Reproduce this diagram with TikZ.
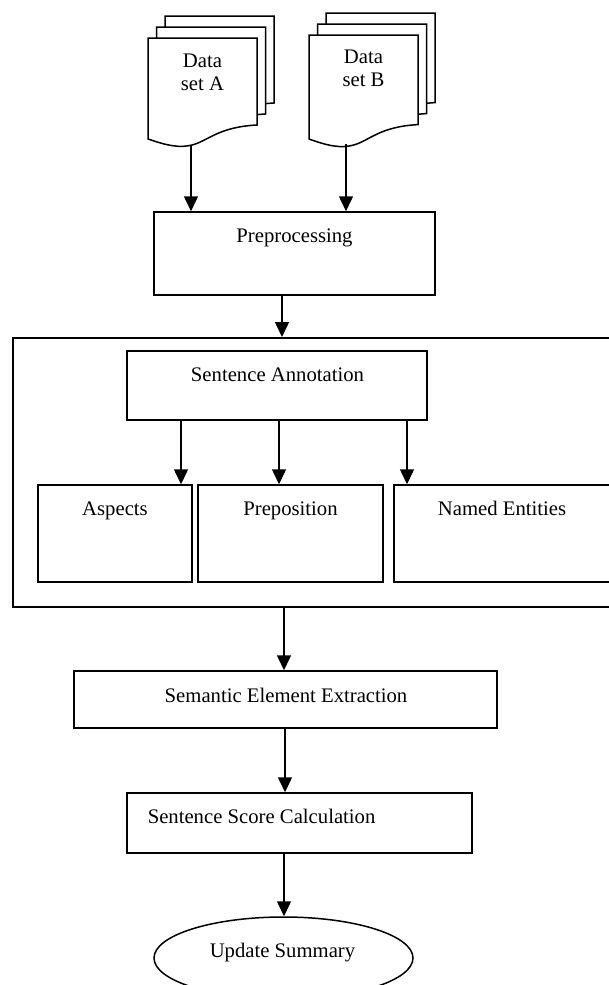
\documentclass[tikz,border=0pt]{standalone}
\usepackage{fontspec}
\setmainfont{Liberation Serif}
\usetikzlibrary{arrows.meta,shapes.geometric}

\tikzset{every picture/.style={line width=1.5pt}}
\tikzset{
  procbox/.style={draw, rectangle, fill=white, inner sep=0pt},
  groupbox/.style={draw, rectangle, line width=2pt, inner sep=0pt},
  endbox/.style={draw, ellipse, fill=white, inner sep=0pt},
  docpage/.style={draw, fill=white, line join=miter},
  txt/.style={inner sep=0pt, font=\fontsize{20.7}{23.5}\selectfont},
  arr/.style={-{Triangle[width=14pt,length=15pt]}}
}

\begin{document}
\begin{tikzpicture}[x=1pt,y=1pt,yscale=-1,xscale=1]
		\useasboundingbox[fill=white] (0,0) rectangle (608,985);

		%Shape: Multidocument [Data set A]
		\foreach \dx/\dy in {17/22,8.5/11,0/0}
		  \draw[docpage, shift={(148+\dx,38-\dy)}] (0,0) -- (109,0) -- (109,87) .. controls (70,89) and (60,103) .. (44,107) .. controls (32,110) and (20,108) .. (0,101) -- cycle ;
		%Shape: Multidocument [Data set B]
		\foreach \dx/\dy in {17/22,8.5/11,0/0}
		  \draw[docpage, shift={(309+\dx,35-\dy)}, yscale=1.03] (0,0) -- (109,0) -- (109,87) .. controls (70,89) and (60,103) .. (44,107) .. controls (32,110) and (20,108) .. (0,101) -- cycle ;
		\coordinate (dA) at (191,145);
		\coordinate (dB) at (346,144);

		% Text Node
		\node[txt, align=center, anchor=north] (dataA) at (202.5,53) {Data\\set A};
		% Text Node
		\node[txt, align=center, anchor=north] (dataB) at (363.5,49) {Data\\set B};

		%Shape: Rectangle [Preprocessing]
		\node[procbox, minimum width=281, minimum height=83] (pre) at (294.5,253.5) {};
		% Text Node
		\node[txt, anchor=base] (preT) at (294.5,242) {Preprocessing};

		%Shape: Rectangle [annotation group]
		\node[groupbox, minimum width=601, minimum height=269] (grp) at (313.5,472.5) {};
		%Shape: Rectangle
		\node[procbox, minimum width=300, minimum height=69] (sa) at (277,385.5) {};
		% Text Node
		\node[txt, anchor=base] (saT) at (277.5,381) {Sentence Annotation};
		%Shape: Rectangle
		\node[procbox, minimum width=154, minimum height=97] (asp) at (115,533.5) {};
		\node[procbox, minimum width=185, minimum height=97] (prep) at (290.5,533.5) {};
		\node[procbox, minimum width=216, minimum height=97] (ne) at (502,533.5) {};
		% Text Node
		\node[txt, anchor=base] (aspT) at (115,515) {Aspects};
		\node[txt, anchor=base] (prepT) at (290.5,515) {Preposition};
		\node[txt, anchor=base] (neT) at (502,515) {Named Entities};

		%Shape: Rectangle
		\node[procbox, minimum width=423, minimum height=57] (see) at (285.5,699.5) {};
		% Text Node
		\node[txt, anchor=base] (seeT) at (286,702) {Semantic Element Extraction};
		%Shape: Rectangle
		\node[procbox, minimum width=345, minimum height=60] (ssc) at (299.5,823) {};
		% Text Node
		\node[txt, anchor=base west] (sscT) at (147,823) {Sentence Score Calculation};
		%Shape: Ellipse
		\node[endbox, minimum width=259, minimum height=82] (upd) at (283.5,958) {};
		% Text Node
		\node[txt, anchor=base] (updT) at (282.5,957) {Update Summary};

		%Straight Lines
		\coordinate (c0) at (282,0);
		\coordinate (c1) at (181,0);
		\coordinate (c2) at (279,0);
		\coordinate (c3) at (407,0);
		\coordinate (c4) at (284,0);
		\coordinate (c5) at (285,0);
		\draw[arr] (dA) -- (dA |- pre.north) ;
		\draw[arr] (dB) -- (dB |- pre.north) ;
		\draw[arr] (pre.south -| c0) -- (grp.north -| c0) ;
		\draw[arr] (sa.south -| c1) -- (asp.north -| c1) ;
		\draw[arr] (sa.south -| c2) -- (prep.north -| c2) ;
		\draw[arr] (sa.south -| c3) -- (ne.north -| c3) ;
		\draw[arr] (grp.south -| c4) -- (see.north -| c4) ;
		\draw[arr] (see.south -| c5) -- (ssc.north -| c5) ;
		\draw[arr] (ssc.south -| c4) -- (upd.north -| c4) ;

\end{tikzpicture}
\end{document}
